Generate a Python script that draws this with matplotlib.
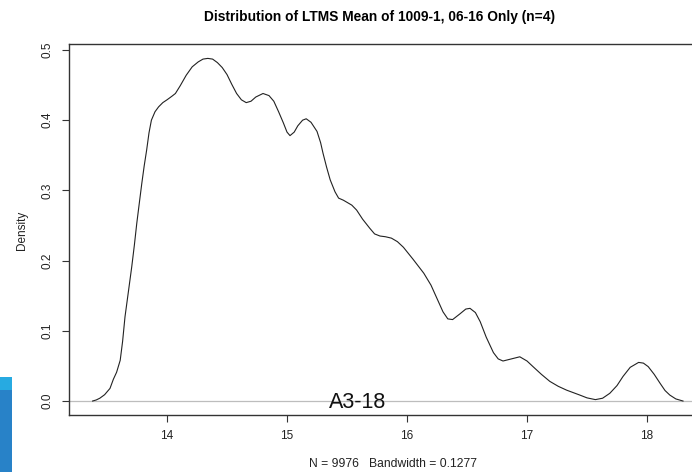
import numpy as np
import matplotlib.pyplot as plt
from matplotlib.patches import Rectangle

# Kernel density estimate read as (value, density) pairs
ltms_mean = [13.38, 13.41, 13.44, 13.48, 13.525, 13.553, 13.58, 13.61,
             13.63, 13.65, 13.68, 13.706, 13.728, 13.748, 13.77, 13.79,
             13.81, 13.83, 13.85, 13.87, 13.90, 13.93, 13.965, 14.00, 14.04,
             14.07, 14.11, 14.16, 14.21, 14.26, 14.30, 14.34, 14.38, 14.42,
             14.46, 14.50, 14.54, 14.58, 14.62, 14.66, 14.70, 14.74, 14.80,
             14.85, 14.89, 14.93, 14.97, 15.00, 15.025, 15.06, 15.09, 15.13,
             15.16, 15.20, 15.25, 15.28, 15.30, 15.33, 15.36, 15.40, 15.43,
             15.47, 15.50, 15.54, 15.58, 15.63, 15.69, 15.73, 15.775, 15.82,
             15.87, 15.92, 15.97, 16.05, 16.14, 16.20, 16.25, 16.30, 16.34,
             16.38, 16.44, 16.49, 16.525, 16.57, 16.61, 16.66, 16.72, 16.76,
             16.80, 16.87, 16.94, 17.00, 17.05, 17.12, 17.19, 17.26, 17.33,
             17.44, 17.50, 17.57, 17.63, 17.69, 17.75, 17.80, 17.86, 17.93,
             17.97, 18.01, 18.06, 18.11, 18.15, 18.19, 18.24, 18.30]
density = [0.000, 0.0015, 0.004, 0.009, 0.018, 0.031, 0.041, 0.058,
           0.085, 0.120, 0.158, 0.191, 0.222, 0.253, 0.283, 0.310,
           0.335, 0.357, 0.382, 0.400, 0.412, 0.419, 0.425, 0.429, 0.434,
           0.438, 0.449, 0.464, 0.476, 0.483, 0.487, 0.488, 0.487, 0.482,
           0.475, 0.465, 0.451, 0.438, 0.429, 0.425, 0.427, 0.433, 0.438,
           0.435, 0.427, 0.412, 0.396, 0.383, 0.378, 0.383, 0.392, 0.400,
           0.402, 0.397, 0.384, 0.368, 0.353, 0.333, 0.315, 0.298, 0.289,
           0.286, 0.283, 0.279, 0.272, 0.259, 0.246, 0.238, 0.235, 0.234,
           0.232, 0.227, 0.219, 0.202, 0.182, 0.165, 0.146, 0.127, 0.117,
           0.116, 0.124, 0.131, 0.132, 0.126, 0.113, 0.091, 0.069, 0.060,
           0.057, 0.060, 0.063, 0.057, 0.049, 0.038, 0.028, 0.021, 0.0155,
           0.0085, 0.0045, 0.002, 0.004, 0.011, 0.022, 0.035, 0.048, 0.055,
           0.054, 0.049, 0.038, 0.025, 0.015, 0.0085, 0.003, 0.000]

x_ticks = [14, 15, 16, 17, 18]
y_ticks = [0.0, 0.1, 0.2, 0.3, 0.4, 0.5]
y_tick_labels = ["0.0", "0.1", "0.2", "0.3", "0.4", "0.5"]

plt.rcParams['font.family'] = ['Liberation Sans', 'DejaVu Sans']

fig = plt.figure(figsize=(6.92, 4.72), dpi=100)
# the plot box runs past the right edge of the figure
ax = fig.add_axes([69 / 692, 57 / 472, (720 - 69) / 692, 371 / 472])

ax.axhline(0, color='#bdbdbd', lw=0.9, zorder=1)
ax.plot(ltms_mean, density, color='#222222', lw=0.8, zorder=2)

ax.set_xlim(13.1833, 18.6083)
ax.set_ylim(-0.0199, 0.5085)

ax.set_xticks(x_ticks)
ax.set_yticks(y_ticks)
ax.set_yticklabels(y_tick_labels, rotation=90, va='center')
ax.tick_params(direction='out', length=5, width=0.8, color='#333333',
               labelsize=8.5, labelcolor='#222222', pad=6)
for side in ax.spines.values():
    side.set_color('#333333')
    side.set_linewidth(1.0)

fig.text(380 / 692, 1 - 17 / 472, "Distribution of LTMS Mean of 1009-1, 06-16 Only (n=4)",
         ha='center', va='center', fontsize=9.9, fontweight='bold')
fig.text(22 / 692, 1 - 230 / 472, "Density", rotation=90,
         ha='center', va='center', fontsize=8.5, color='#222222')
fig.text(393 / 692, 1 - 464 / 472, "N = 9976   Bandwidth = 0.1277",
         ha='center', va='center', fontsize=8.7, color='#222222')
fig.text(358 / 692, 1 - 402 / 472, "A3-18",
         ha='center', va='center', fontsize=15.5, color='#111111')

# blue strip on the left edge
fig.patches.append(Rectangle((0, 0), 12 / 692, 82 / 472, transform=fig.transFigure,
                             facecolor='#2882c8', edgecolor='none'))
fig.patches.append(Rectangle((0, 82 / 472), 12 / 692, 13 / 472, transform=fig.transFigure,
                             facecolor='#27aae1', edgecolor='none'))

fig.savefig("out.png", dpi=100)
